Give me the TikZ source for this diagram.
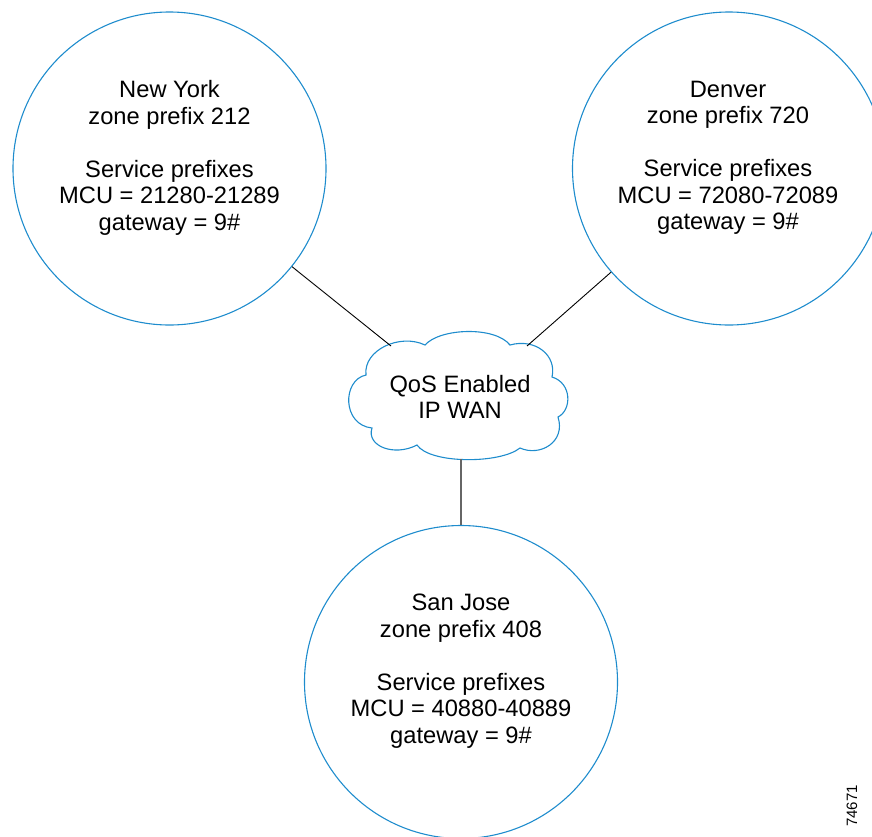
\documentclass[tikz,border=0pt]{standalone}
\usepackage{fontspec}
\setmainfont{Liberation Sans}
\definecolor{zoneblue}{RGB}{30,140,205}
\begin{document}
\begin{tikzpicture}[x=1pt,y=-1pt,
  zone/.style={circle,draw=zoneblue,line width=1.1pt,minimum size=313pt,inner sep=0pt},
  zonetext/.style={align=center,inner sep=0pt,font=\fontsize{23.7}{26.5}\selectfont},
  link/.style={draw=black,line width=0.9pt},
  cloudline/.style={draw=zoneblue,line width=1.1pt}]
\useasboundingbox (0,0) rectangle (872,836);
\clip (0,0) rectangle (872,836);
% zones
\node[zone] (ny) at (169.5,168.5) {};
\node[zone] (den) at (729,168.5) {};
\node[zone] (sj) at (461,682) {};
\node[zonetext] (nyt) at (169.5,158) {New York\\zone prefix 212\\[26.5pt]Service prefixes\\MCU = 21280-21289\\gateway = 9\#};
\node[zonetext] (dent) at (728,158) {Denver\\zone prefix 720\\[26.5pt]Service prefixes\\MCU = 72080-72089\\gateway = 9\#};
\node[zonetext] (sjt) at (461,671) {San Jose\\zone prefix 408\\[26.5pt]Service prefixes\\MCU = 40880-40889\\gateway = 9\#};
% cloud
\path[cloudline,fill=white]
  (366,375) .. controls (363,350) and (400,333) .. (425,345)
  .. controls (440,328) and (495,326) .. (510,345)
  .. controls (535,338) and (557,355) .. (552,377)
  .. controls (572,383) and (572,410) .. (558,417)
  .. controls (566,442) and (540,457) .. (520,448)
  .. controls (500,464) and (430,464) .. (417,445)
  .. controls (394,457) and (366,446) .. (372,428)
  .. controls (342,425) and (342,380) .. cycle;
\coordinate (cnw) at (391,346);
\coordinate (cne) at (527,346);
\coordinate (cs) at (461,459);
\node[zonetext] (wan) at (460,397) {QoS Enabled\\IP WAN};
% connectors
\draw[link] (ny) -- (cnw);
\draw[link] (den) -- (cne);
\draw[draw=black!60,line width=1.4pt] (cs) -- (sj);
% figure number
\node[rotate=90,inner sep=0pt,font=\fontsize{15}{15}\selectfont] (fig) at (852,806) {74671};
\end{tikzpicture}
\end{document}
